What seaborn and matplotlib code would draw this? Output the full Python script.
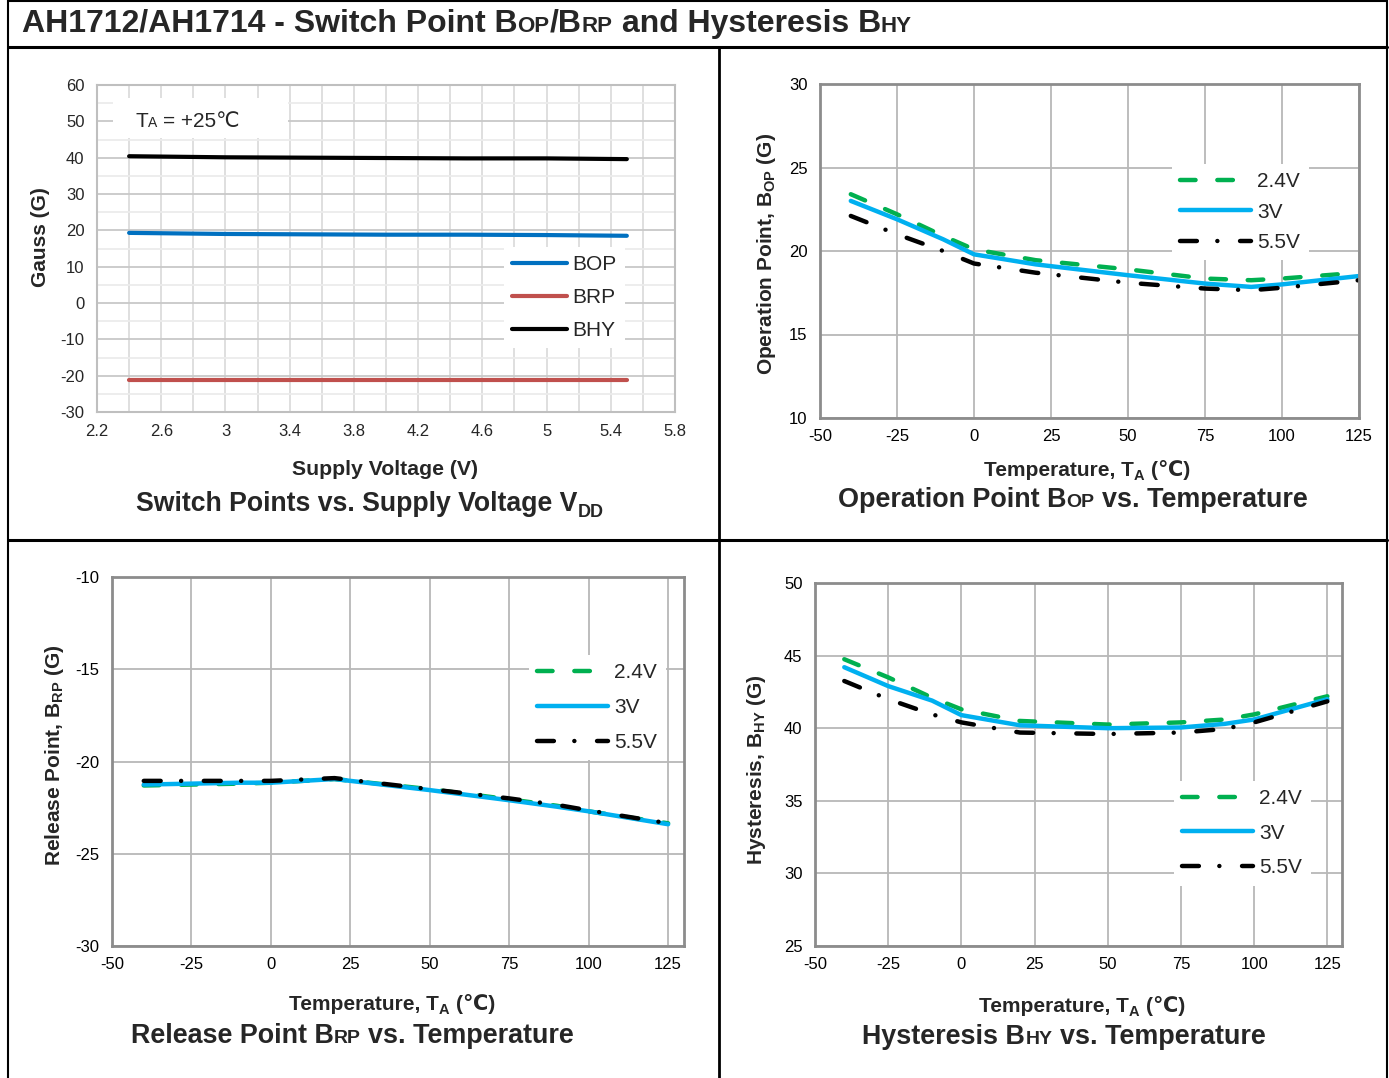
import numpy as np
import pandas as pd
import seaborn as sns
import matplotlib.pyplot as plt
from matplotlib.lines import Line2D
from matplotlib.patches import Rectangle
from matplotlib.ticker import MultipleLocator, FuncFormatter

# data
vdd = [2.4, 3.0, 3.5, 4.0, 4.5, 5.0, 5.5]
bop_vdd = [19.3, 19.0, 18.9, 18.8, 18.8, 18.7, 18.5]
brp_vdd = [-21.1, -21.1, -21.1, -21.1, -21.1, -21.1, -21.1]
bhy_vdd = [40.4, 40.1, 40.0, 39.9, 39.8, 39.8, 39.6]
vdd_ticks = [2.2, 2.6, 3.0, 3.4, 3.8, 4.2, 4.6, 5.0, 5.4, 5.8]

temp = [-40, -25, -10, 0, 20, 50, 75, 90, 100, 125]
bop_24 = [23.4, 22.2, 20.9, 20.1, 19.45, 18.9, 18.35, 18.25, 18.35, 18.7]
bop_3 = [23.0, 21.9, 20.7, 19.8, 19.2, 18.55, 18.05, 17.85, 18.0, 18.5]
bop_55 = [22.1, 21.0, 20.0, 19.25, 18.7, 18.1, 17.75, 17.65, 17.8, 18.25]

brp_24 = [-21.3, -21.25, -21.2, -21.15, -20.95, -21.5, -22.05, -22.4, -22.7, -23.35]
brp_3 = [-21.25, -21.2, -21.15, -21.15, -20.95, -21.55, -22.1, -22.45, -22.7, -23.4]
brp_55 = [-21.05, -21.05, -21.05, -21.05, -20.9, -21.5, -22.0, -22.35, -22.65, -23.35]

bhy_24 = [44.75, 43.5, 42.1, 41.3, 40.5, 40.25, 40.4, 40.6, 40.95, 42.2]
bhy_3 = [44.2, 42.9, 41.9, 40.9, 40.2, 40.0, 40.05, 40.3, 40.6, 42.0]
bhy_55 = [43.25, 42.0, 40.95, 40.4, 39.7, 39.6, 39.7, 39.95, 40.4, 41.85]

W, H, DPI = 1389, 1078, 100
FONT = ['Liberation Sans', 'DejaVu Sans']
GREEN, CYAN, BLUE, RED = '#00b050', '#00b0f0', '#0070c0', '#c0504d'

sns.set_theme(style='white')
plt.rcParams['font.family'] = FONT
plt.rcParams['axes.unicode_minus'] = False
plt.rcParams['mathtext.fontset'] = 'custom'
plt.rcParams['mathtext.rm'] = 'Liberation Sans'
plt.rcParams['mathtext.bf'] = 'Liberation Sans:bold'
plt.rcParams['mathtext.it'] = 'Liberation Sans:italic'

fig = plt.figure(figsize=(W / DPI, H / DPI), dpi=DPI)


def add_ax(l, t, r, b):
    return fig.add_axes([l / W, 1 - b / H, (r - l) / W, (b - t) / H])


def rich(x, y, parts, ha='left', weight='bold'):
    # draws pieces of text side by side, y is the baseline in pixels from the top
    rend = fig.canvas.get_renderer()
    items = []
    for s, size, dy in parts:
        if s == ' ':
            items.append((None, size * 0.278 * DPI / 72, dy))
            continue
        t = fig.text(0, 0, s, fontsize=size, fontweight=weight, va='baseline', ha='left')
        items.append((t, t.get_window_extent(rend).width, dy))
    total = sum(w for _, w, _ in items)
    cx = x - total / 2 if ha == 'center' else x
    for t, w, dy in items:
        if t is not None:
            t.set_position((cx / W, 1 - (y + dy) / H))
        cx += w


def temp_axes(ax, ylim, ystep, xmax=130):
    ax.set_xlim(-50, xmax)
    ax.set_ylim(*ylim)
    ax.xaxis.set_major_locator(MultipleLocator(25))
    ax.yaxis.set_major_locator(MultipleLocator(ystep))
    ax.grid(True, color='#b8b8b8', lw=1.3)
    for s in ax.spines.values():
        s.set_color('#8c8c8c')
        s.set_linewidth(2)
    ax.tick_params(axis='y', labelsize=12, pad=9, length=0, labelcolor='black')
    ax.tick_params(axis='x', labelsize=12, pad=4, length=4, width=1, color='#8c8c8c',
                   direction='out', labelcolor='black')
    ax.set_xlabel('')
    ax.set_ylabel('')


def temp_lines(ax, y24, y3, y55):
    sns.lineplot(x=temp, y=y24, ax=ax, color=GREEN, lw=3.2, label='2.4V', sort=False, errorbar=None)
    ln = ax.lines[-1]
    ln.set_dashes((3.5, 4.9))
    ln.set_dash_capstyle('round')
    sns.lineplot(x=temp, y=y3, ax=ax, color=CYAN, lw=3.2, label='3V', sort=False, errorbar=None)
    ax.lines[-1].set_solid_capstyle('round')
    sns.lineplot(x=temp, y=y55, ax=ax, color='black', lw=3.2, label='5.5V', sort=False, errorbar=None)
    ln = ax.lines[-1]
    ln.set_dashes((3.8, 4.6, 0.01, 5.1))
    ln.set_dash_capstyle('round')


def put_legend(ax, x, y, spacing, hl=3.4):
    ax.legend(loc='upper left', bbox_to_anchor=(x / W, 1 - y / H), bbox_transform=fig.transFigure,
              borderaxespad=0, borderpad=0.4, fontsize=15, handlelength=hl, handletextpad=0.3,
              labelspacing=spacing, frameon=True, facecolor='white', edgecolor='none',
              framealpha=1, fancybox=False)


# ---- top left: switch points vs supply voltage
ax1 = add_ax(97, 85, 675, 412)
sns.lineplot(x=vdd, y=bop_vdd, ax=ax1, color=BLUE, lw=3, label='BOP', errorbar=None)
sns.lineplot(x=vdd, y=brp_vdd, ax=ax1, color=RED, lw=3, label='BRP', errorbar=None)
sns.lineplot(x=vdd, y=bhy_vdd, ax=ax1, color='black', lw=3, label='BHY', errorbar=None)
for ln in ax1.lines:
    ln.set_solid_capstyle('round')
ax1.set_xlim(2.2, 5.8)
ax1.set_ylim(-30, 60)
ax1.set_xticks(vdd_ticks)
ax1.xaxis.set_minor_locator(MultipleLocator(0.2))
ax1.yaxis.set_major_locator(MultipleLocator(10))
ax1.yaxis.set_minor_locator(MultipleLocator(5))
ax1.xaxis.set_major_formatter(FuncFormatter(lambda v, p: f'{v:g}'))
ax1.grid(True, which='major', axis='y', color='#c8c8c8', lw=1.3)
ax1.grid(True, which='minor', axis='y', color='#ececec', lw=1.3)
ax1.grid(True, which='both', axis='x', color='#dcdcdc', lw=1.3)
for s in ax1.spines.values():
    s.set_color('#bfbfbf')
    s.set_linewidth(1.5)
ax1.tick_params(axis='both', which='both', labelsize=12, pad=9, length=0)
ax1.set_xlabel('')
ax1.set_ylabel('')
put_legend(ax1, 504, 247, 0.66, hl=2.6)
fig.patches.append(Rectangle((113 / W, 1 - 138 / H), 175 / W, 40 / H, transform=fig.transFigure,
                             facecolor='white', edgecolor='none', zorder=1))
rich(135, 127, [('T', 15, 0), ('A', 10, 0), (' ', 15, 0), ('= +25\u2103', 15, 0)], weight='normal')

# ---- top right: operation point
ax2 = add_ax(820, 84, 1359, 418)
temp_lines(ax2, bop_24, bop_3, bop_55)
temp_axes(ax2, (10, 30), 5, xmax=125)
put_legend(ax2, 1172, 164, 0.54)

# ---- bottom left: release point
ax3 = add_ax(112, 577, 684, 946)
temp_lines(ax3, brp_24, brp_3, brp_55)
temp_axes(ax3, (-30, -10), 5)
put_legend(ax3, 529, 655, 0.76)

# ---- bottom right: hysteresis
ax4 = add_ax(815, 583, 1342, 946)
temp_lines(ax4, bhy_24, bhy_3, bhy_55)
temp_axes(ax4, (25, 50), 5)
put_legend(ax4, 1174, 781, 0.74)

# axis labels
ylab = dict(rotation=90, ha='center', va='center', fontsize=15, fontweight='bold')
fig.text(40 / W, 1 - 237 / H, 'Gauss (G)', **ylab)
fig.text(767 / W, 1 - 254 / H, r'Operation Point, B$_{\mathbf{OP}}$ (G)', **ylab)
fig.text(55 / W, 1 - 755 / H, r'Release Point, B$_{\mathbf{RP}}$ (G)', **ylab)
fig.text(757 / W, 1 - 770 / H, r'Hysteresis, B$_{\mathbf{HY}}$ (G)', **ylab)

rich(385, 475, [('Supply Voltage (V)', 15.3, 0)], ha='center')
temp_label = [('Temperature, T', 15, 0), ('A', 10.5, 4), (' ', 15, 0), ('(\u2103)', 15, 0)]
rich(1087, 476, temp_label, ha='center')
rich(392, 1010, temp_label, ha='center')
rich(1082, 1012, temp_label, ha='center')

# panel captions
rich(370, 511, [('Switch Points vs. Supply Voltage V', 19.2, 0), ('DD', 13, 6)], ha='center')
rich(1073, 507, [('Operation Point B', 19.4, 0), ('OP', 14, 0), (' ', 19.4, 0), ('vs. Temperature', 19.4, 0)], ha='center')
rich(352, 1043, [('Release Point B', 19.4, 0), ('RP', 14, 0), (' ', 19.4, 0), ('vs. Temperature', 19.4, 0)], ha='center')
rich(1064, 1044, [('Hysteresis B', 19.4, 0), ('HY', 14, 0), (' ', 19.4, 0), ('vs. Temperature', 19.4, 0)], ha='center')

# page title
rich(22, 32, [('AH1712/AH1714 - Switch Point B', 23, 0), ('OP', 16, 0), ('/B', 23, 0), ('RP', 16, 0),
              (' ', 23, 0), ('and Hysteresis B', 23, 0), ('HY', 16, 0)])


# table borders
def vline(x, y0, y1, lw=2.0):
    fig.add_artist(Line2D([x / W, x / W], [1 - y0 / H, 1 - y1 / H], color='black', lw=lw,
                          transform=fig.transFigure))


def hline(y, x0, x1, lw=2.0):
    fig.add_artist(Line2D([x0 / W, x1 / W], [1 - y / H, 1 - y / H], color='black', lw=lw,
                          transform=fig.transFigure))


hline(1, 8, 1387, 1.5)
hline(47, 8, 1387, 2.2)
hline(540, 8, 1387, 2.2)
vline(8, 0, 1078, 1.5)
vline(1387, 0, 1078, 1.5)
vline(719, 47, 1078, 2.0)

fig.savefig('out.png', dpi=DPI)
